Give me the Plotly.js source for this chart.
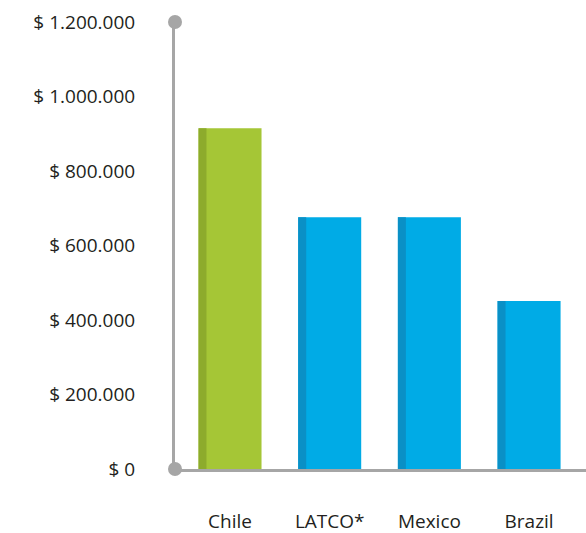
<!DOCTYPE html>
<html><head><meta charset="utf-8">
<script src="https://cdn.plot.ly/plotly-3.0.1.min.js"></script>
<style>html,body{margin:0;padding:0;background:#fff}#c{width:586px;height:533px}</style>
</head><body><div id="c"></div>
<script>
const categories = ["Chile", "LATCO*", "Mexico", "Brazil"];
const values = [915000, 676000, 676000, 451000];
const barColors = ["#a5c636", "#00abe6", "#00abe6", "#00abe6"];
const edgeColors = ["#8dab2c", "#0a90c6", "#0a90c6", "#0a90c6"];
const tickVals = [0, 200000, 400000, 600000, 800000, 1000000, 1200000];
const tickText = ["$ 0", "$ 200.000", "$ 400.000", "$ 600.000", "$ 800.000", "$ 1.000.000", "$ 1.200.000"];

const axisGray = "#a6a6a6";
const data = [
  {type: "bar", x: categories, y: values, width: 0.632,
   marker: {color: barColors, line: {width: 0}}, hoverinfo: "none"},
  {type: "bar", x: categories, y: values, width: 0.08, offset: -0.316,
   marker: {color: edgeColors, line: {width: 0}}, hoverinfo: "none"}
];
const layout = {
  width: 586, height: 533,
  margin: {l: 175, r: 0, t: 22, b: 64, pad: 0},
  paper_bgcolor: "#fff", plot_bgcolor: "#fff",
  showlegend: false, barmode: "overlay",
  font: {family: "Open Sans, sans-serif", size: 19, color: "#231f20"},
  xaxis: {type: "category", range: [-0.552, 3.571], showline: true, linecolor: axisGray, linewidth: 3,
          showgrid: false, zeroline: false, ticks: "outside", ticklen: 33, tickcolor: "rgba(0,0,0,0)",
          tickfont: {size: 19}},
  yaxis: {range: [0, 1200000], showline: true, linecolor: axisGray, linewidth: 3, showgrid: false,
          zeroline: false, tickvals: tickVals, ticktext: tickText, ticks: "outside", ticklen: 33,
          tickcolor: "rgba(0,0,0,0)", tickfont: {size: 19}},
  shapes: [
    {type: "circle", xref: "paper", yref: "paper", xsizemode: "pixel", ysizemode: "pixel",
     xanchor: 0, yanchor: 0, x0: -7, x1: 7, y0: -7, y1: 7, fillcolor: axisGray, line: {width: 0}},
    {type: "circle", xref: "paper", yref: "paper", xsizemode: "pixel", ysizemode: "pixel",
     xanchor: 0, yanchor: 1, x0: -7, x1: 7, y0: -7, y1: 7, fillcolor: axisGray, line: {width: 0}}
  ]
};
Plotly.newPlot("c", data, layout, {staticPlot: true, displayModeBar: false});
</script></body></html>
